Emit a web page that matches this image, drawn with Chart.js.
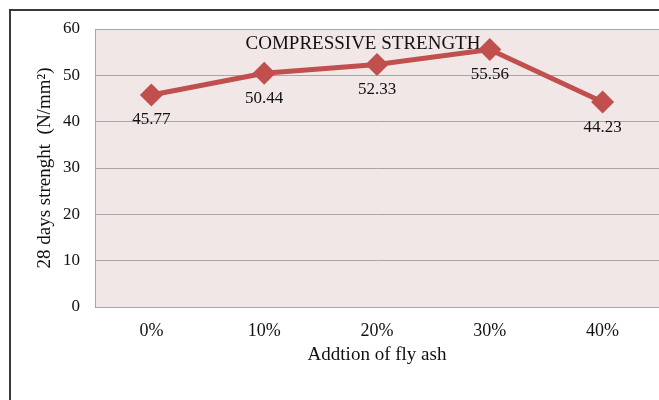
<!DOCTYPE html>
<html>
<head>
<meta charset="utf-8">
<script src="https://cdn.jsdelivr.net/npm/chart.js@4/dist/chart.umd.min.js"></script>
<style>
  html, body { margin: 0; padding: 0; background: #fff; overflow: hidden; }
  #wrap { width: 659px; height: 400px; overflow: hidden; }
</style>
</head>
<body>
<div id="wrap"><canvas id="myChart" width="672" height="400"></canvas></div>
<script>
var categories = ["0%", "10%", "20%", "30%", "40%"];
var strength = [45.77, 50.44, 52.33, 55.56, 44.23];
var yTicks = [0, 10, 20, 30, 40, 50, 60];

var serif = "'Liberation Serif', 'Times New Roman', serif";

// frame round the whole chart, plot background and chart title
var decor = {
  id: 'decor',
  beforeDraw: function(chart) {
    var c = chart.ctx, a = chart.chartArea;
    c.save();
    c.fillStyle = '#fff';
    c.fillRect(0, 0, chart.width, chart.height);
    c.strokeStyle = '#3a3a3a';
    c.lineWidth = 2;
    c.strokeRect(10, 10, chart.width + 20, chart.height + 20);
    c.fillStyle = '#F2E7E7';
    c.fillRect(a.left, a.top, a.right - a.left, a.bottom - a.top);
    c.restore();
  },
  beforeDatasetsDraw: function(chart) {
    var c = chart.ctx;
    c.save();
    c.font = "19px " + serif;
    c.fillStyle = '#111';
    c.textAlign = 'center';
    c.textBaseline = 'middle';
    c.fillText("COMPRESSIVE STRENGTH", 363, 44);
    c.restore();
  },
  afterDatasetsDraw: function(chart) {
    var c = chart.ctx;
    var meta = chart.getDatasetMeta(0);
    c.save();
    c.font = "17px " + serif;
    c.fillStyle = '#111';
    c.textAlign = 'center';
    c.textBaseline = 'middle';
    meta.data.forEach(function(pt, i) {
      c.fillText(strength[i].toFixed(2), pt.x, pt.y + 25);
    });
    c.restore();
  }
};

var ctx = document.getElementById("myChart").getContext('2d');
var myChart = new Chart(ctx, {
  type: 'line',
  data: {
    labels: categories,
    datasets: [{
      data: strength,
      borderColor: '#C0504D',
      backgroundColor: '#C0504D',
      borderWidth: 5,
      pointStyle: 'rectRot',
      pointRadius: 8,
      pointHoverRadius: 8,
      tension: 0
    }]
  },
  options: {
    responsive: false,
    animation: false,
    devicePixelRatio: 1,
    layout: {
      padding: { left: 0, right: 0, top: 29, bottom: 0 }
    },
    plugins: {
      legend: { display: false },
      tooltip: { enabled: false }
    },
    scales: {
      x: {
        offset: true,
        afterFit: function(s) { s.height = 93; },
        grid: { display: false, drawTicks: false },
        border: { color: '#A6A6A6', width: 1 },
        ticks: { color: '#111', padding: 13, font: { family: serif, size: 18 } },
        title: {
          display: true,
          text: "Addtion of fly ash",
          color: '#111',
          font: { family: serif, size: 19 },
          padding: { top: 34, bottom: 34 }
        }
      },
      y: {
        min: 0,
        max: 60,
        afterFit: function(s) { s.width = 95; },
        afterBuildTicks: function(s) { s.ticks = yTicks.map(function(v) { return { value: v }; }); },
        grid: { color: '#A6A6A6', lineWidth: 1, drawTicks: false },
        border: { color: '#A6A6A6', width: 1 },
        ticks: { color: '#111', padding: 15, font: { family: serif, size: 17 } },
        title: {
          display: true,
          text: "28 days strenght  (N/mm\u00B2)",
          color: '#111',
          font: { family: serif, size: 19 },
          padding: { top: 34, bottom: 0 }
        }
      }
    }
  },
  plugins: [decor]
});
</script>
</body>
</html>
